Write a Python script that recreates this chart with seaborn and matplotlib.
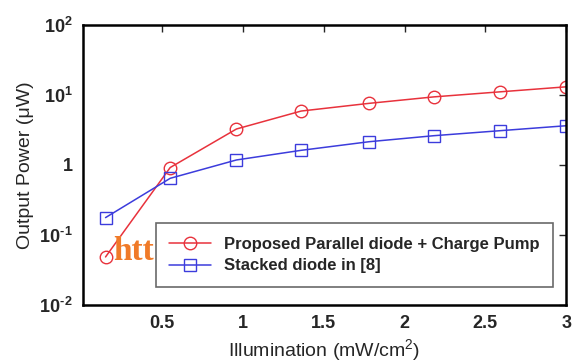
import matplotlib
matplotlib.use("Agg")
import matplotlib.pyplot as plt
import seaborn as sns
import pandas as pd

illum = [0.15, 0.55, 0.96, 1.36, 1.78, 2.18, 2.59, 3.0]
proposed = [0.0485, 0.92, 3.27, 5.9, 7.6, 9.4, 11.1, 13.1]
stacked = [0.177, 0.645, 1.18, 1.62, 2.15, 2.62, 3.09, 3.64]
series_names = ["Proposed Parallel diode + Charge Pump", "Stacked diode in [8]"]
xticks = [0.5, 1, 1.5, 2, 2.5, 3]
xticklabels = ["0.5", "1", "1.5", "2", "2.5", "3"]
yticks = [1e-2, 1e-1, 1, 1e1, 1e2]
yticklabels = ["10$^{\\mathregular{\u2010\u200a2}}$", "10$^{\\mathregular{\u2010\u200a1}}$", "1",
               "10$^{\\mathregular{1}}$", "10$^{\\mathregular{2}}$"]

sns.set_style("white")
plt.rcParams['font.family'] = ['Liberation Sans', 'DejaVu Sans']
plt.rcParams['mathtext.fontset'] = 'custom'
plt.rcParams['mathtext.rm'] = 'Liberation Sans'
plt.rcParams['mathtext.bf'] = 'Liberation Sans:bold'

fig = plt.figure(figsize=(5.88, 3.63), dpi=100)
ax = fig.add_axes([0.141, 0.160, 0.822, 0.771])

df = pd.concat([
    pd.DataFrame({"x": illum, "y": proposed, "s": series_names[0]}),
    pd.DataFrame({"x": illum, "y": stacked, "s": series_names[1]}),
])
colors = ["#e8323c", "#3c3cdc"]
markers = ["o", "s"]
for name, c, m in zip(series_names, colors, markers):
    sub = df[df["s"] == name]
    sns.lineplot(data=sub, x="x", y="y", ax=ax, color=c, marker=m, markersize=9,
                 markerfacecolor="none", markeredgecolor=c, markeredgewidth=1.0,
                 linewidth=1.1, label=name)

ax.set_yscale("log")
ax.set_xlim(0.01, 3.0)
ax.set_ylim(1e-2, 1e2)
ax.set_xticks(xticks)
ax.set_xticklabels(xticklabels)
ax.set_yticks(yticks)
ax.set_yticklabels(yticklabels)
ax.minorticks_off()
ax.tick_params(direction="in", length=5, width=1, top=True, right=True,
               labelsize=13, pad=7)
for lbl in ax.get_xticklabels() + ax.get_yticklabels():
    lbl.set_fontweight("bold")
for sp in ax.spines.values():
    sp.set_linewidth(1.8)
    sp.set_color("black")

ax.set_xlabel("Illumination (mW/cm$^{\\mathregular{2}}$)", fontsize=14, labelpad=4)
ax.set_ylabel("Output Power (μW)", fontsize=14, labelpad=4)

leg = ax.legend(loc="lower right", fontsize=12, frameon=True, fancybox=False,
                edgecolor="#444444", handlelength=2.5, borderpad=0.8,
                labelspacing=0.4, bbox_to_anchor=(0.99, 0.035))
leg.get_frame().set_linewidth(1.2)
for t in leg.get_texts():
    t.set_fontweight("bold")

ax.text(0.20, 0.044, "htt", transform=ax.transData, fontsize=24, fontweight="bold",
        color="#f07a28", family="Liberation Serif", va="baseline", zorder=6)

fig.savefig("out.png", dpi=100)
